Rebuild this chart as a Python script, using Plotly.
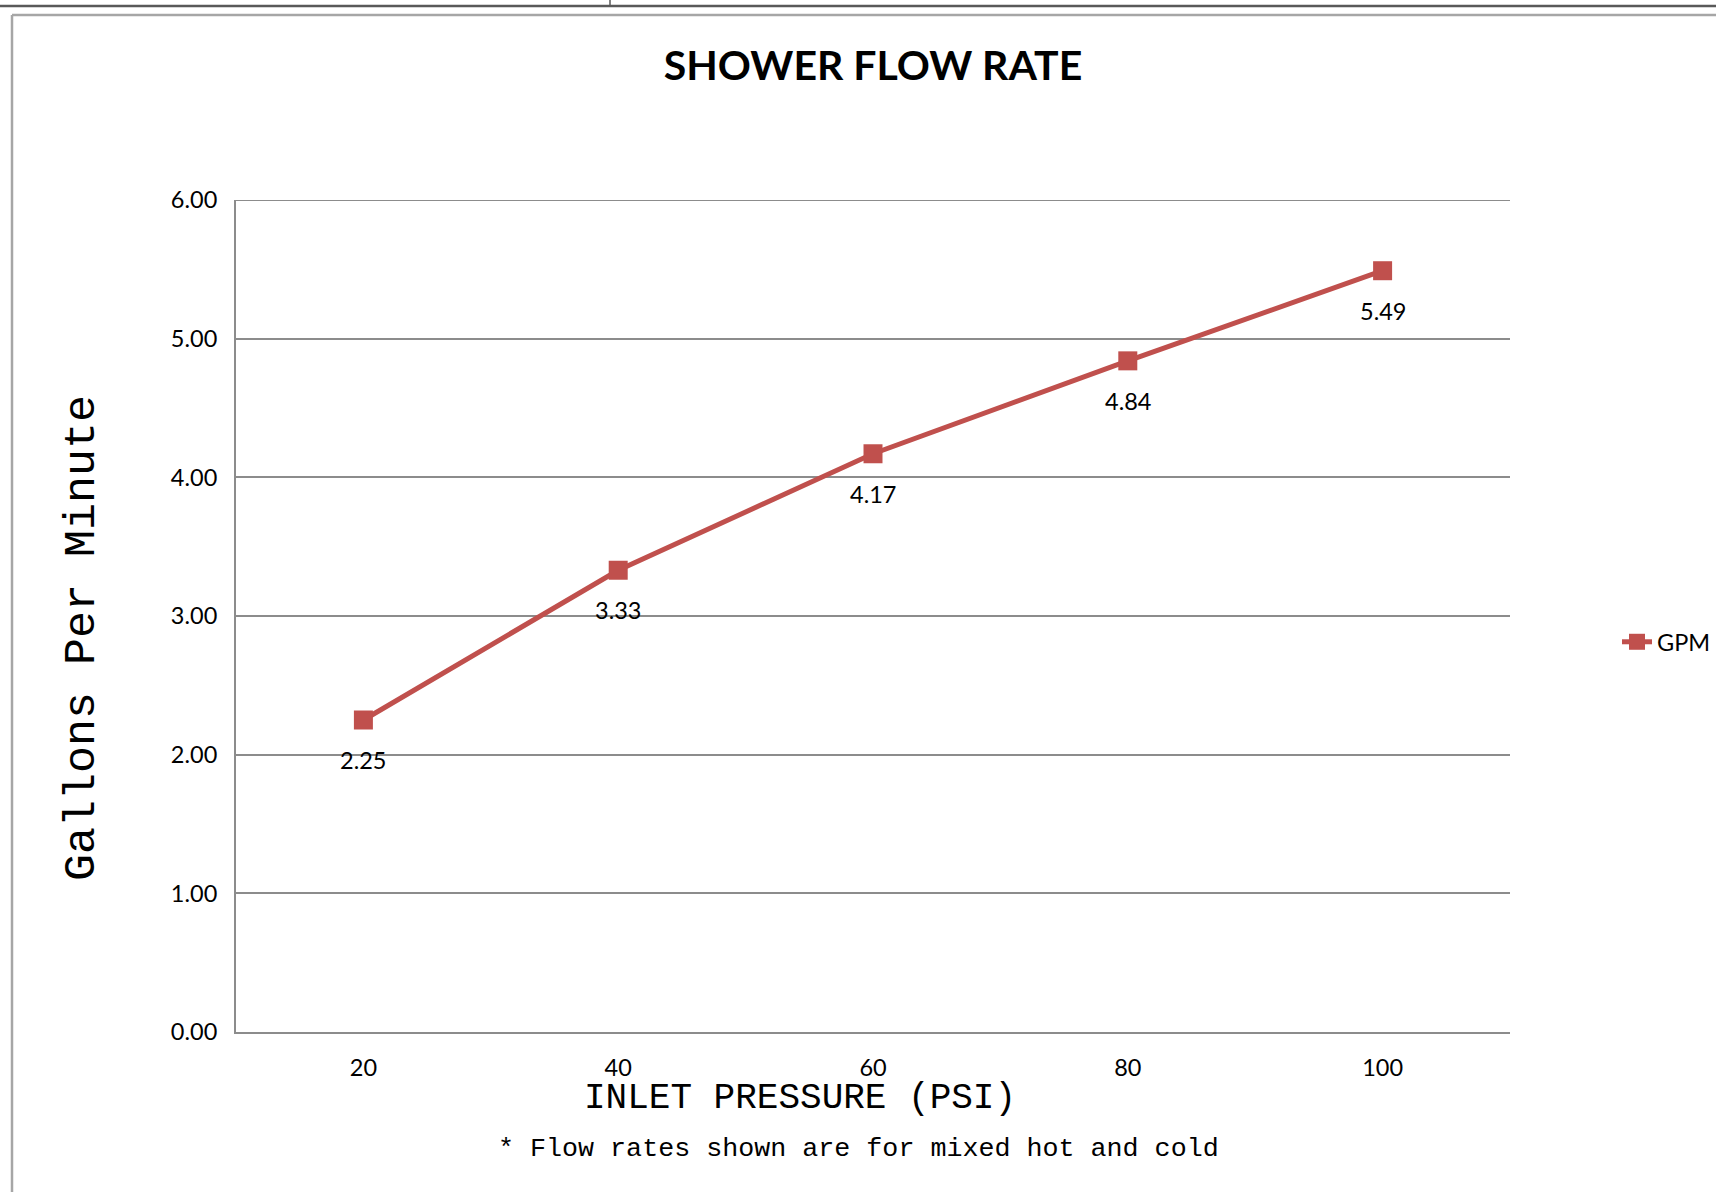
import plotly.graph_objects as go

pressure = ["20", "40", "60", "80", "100"]
gpm = [2.25, 3.33, 4.17, 4.84, 5.49]
y_ticks = [0, 1, 2, 3, 4, 5, 6]

W, H = 1716, 1192
L, R, T, B = 236, 1510, 200, 1032   # plot area in pixels

def px(x):
    return (x - L) / (R - L)

def py(y):
    return (B - y) / (B - T)

RED = "#C0504D"
GRID = "#8C8C8C"
TICKFONT = dict(family="Lato, 'Open Sans', sans-serif", size=23.5, color="#000000")
MONO = "'Liberation Mono', 'Courier New', monospace"

fig = go.Figure()
fig.add_trace(go.Scatter(
    x=pressure, y=gpm, mode="lines+markers", name="GPM",
    line=dict(color=RED, width=5),
    marker=dict(symbol="square", size=19, color=RED),
))

for i, yv in enumerate(gpm):
    fig.add_annotation(x=i, y=yv, xref="x", yref="y", text=f"{yv:.2f}", showarrow=False,
                       yshift=-40, font=TICKFONT, xanchor="center", yanchor="middle")

fig.update_layout(
    width=W, height=H,
    margin=dict(l=L, r=W - R, t=T, b=H - B, autoexpand=False),
    paper_bgcolor="white", plot_bgcolor="white",
    title=dict(text="<b>SHOWER FLOW RATE</b>", x=0.5, xref="paper",
               y=1 - 66 / H, yref="container", yanchor="middle", xanchor="center",
               font=dict(family="Lato, 'Open Sans', sans-serif", size=41, color="#000000")),
    showlegend=True,
    legend=dict(x=px(1617), y=py(642), xanchor="left", yanchor="middle",
                font=TICKFONT, bgcolor="rgba(0,0,0,0)"),
    xaxis=dict(type="category", range=[-0.5, 4.5], showgrid=False,
               showline=True, linecolor=GRID, linewidth=2, ticks="",
               tickfont=TICKFONT, ticklabelstandoff=14, zeroline=False),
    yaxis=dict(range=[0, 6], tickvals=y_ticks, tickformat=".2f",
               showgrid=True, gridcolor=GRID, gridwidth=1.5,
               showline=True, linecolor=GRID, linewidth=2, ticks="",
               tickfont=TICKFONT, ticklabelstandoff=12, zeroline=False),
)

# top gridline at the 6.00 tick (plotly drops gridlines at the plot edge)
fig.add_shape(type="line", xref="paper", yref="y", x0=0, x1=1, y0=y_ticks[-1], y1=y_ticks[-1],
              line=dict(color=GRID, width=2), layer="below")

# axis titles and footnote
fig.add_annotation(text="Gallons Per Minute", x=px(82), y=py(638), xref="paper", yref="paper",
                   textangle=-90, showarrow=False, xanchor="center", yanchor="middle",
                   font=dict(family=MONO, size=45, color="#000000"))
fig.add_annotation(text="INLET PRESSURE (PSI)", x=px(800), y=py(1098), xref="paper", yref="paper",
                   showarrow=False, xanchor="center", yanchor="middle",
                   font=dict(family=MONO, size=36, color="#000000"))
fig.add_annotation(text="* Flow rates shown are for mixed hot and cold", x=px(858), y=py(1149),
                   xref="paper", yref="paper", showarrow=False, xanchor="center", yanchor="middle",
                   font=dict(family=MONO, size=26.7, color="#000000"))

# page frame lines
fig.add_shape(type="line", xref="paper", yref="paper", x0=px(0), x1=px(W), y0=py(6), y1=py(6),
              line=dict(color="#595959", width=2.5))
fig.add_shape(type="line", xref="paper", yref="paper", x0=px(610), x1=px(610), y0=py(0), y1=py(6),
              line=dict(color="#595959", width=1.5))
fig.add_shape(type="line", xref="paper", yref="paper", x0=px(12), x1=px(W), y0=py(15), y1=py(15),
              line=dict(color="#A6A6A6", width=2.5))
fig.add_shape(type="line", xref="paper", yref="paper", x0=px(12), x1=px(12), y0=py(15), y1=py(H),
              line=dict(color="#A6A6A6", width=2.5))

fig.write_html("out.html", config={"displayModeBar": False},
               post_script="document.body.style.margin='0px';")
